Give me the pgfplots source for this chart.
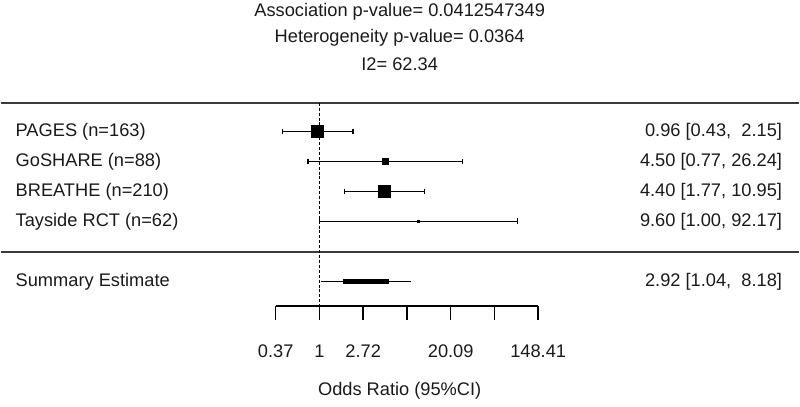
\documentclass[border=0pt]{standalone}
\usepackage{pgfplots}
\pgfplotsset{compat=1.18}
\usepackage{fontspec}
\setmainfont{Liberation Sans}
\definecolor{txt}{HTML}{1A1A1A}
\definecolor{rule}{HTML}{3A3A3A}
\tikzset{lab/.style={font=\fontsize{10.4}{12}\selectfont, text=txt, inner sep=0pt, outer sep=0pt}}
\begin{document}
\begin{tikzpicture}
\begin{axis}[
  width=16cm, height=8.14cm, scale only axis,
  xmode=log, xmin=0.000686, xmax=57931,
  ymin=0, ymax=407,
  hide axis, clip=false,
]
\path (rel axis cs:0,0) rectangle (rel axis cs:1,1);
% titles
\node[lab] at (axis cs:6.26,395) {Association p-value= 0.0412547349};
\node[lab] at (axis cs:6.26,369) {Heterogeneity p-value= 0.0364};
\node[lab] at (axis cs:6.26,343) {I2= 62.34};
% separator rules
\addplot[rule, line width=0.85pt] coordinates {(0.000686,304) (57931,304)};
\addplot[rule, line width=0.85pt] coordinates {(0.000686,154.7) (57931,154.7)};
% null line
\addplot[black, line width=0.85pt, dash pattern=on 1.7pt off 1.1pt] coordinates {(1,304) (1,100.3)};
% PAGES
\addplot[black, line width=0.65pt, mark=|, mark size=1.6pt] coordinates {(0.43,275.3) (2.15,275.3)};
\addplot[black, only marks, mark=square*, mark size=3.4pt] coordinates {(0.96,275.3)};
% GoSHARE
\addplot[black, line width=0.65pt, mark=|, mark size=1.6pt] coordinates {(0.77,245.3) (26.24,245.3)};
\addplot[black, only marks, mark=square*, mark size=1.7pt] coordinates {(4.50,245.3)};
% BREATHE
\addplot[black, line width=0.65pt, mark=|, mark size=1.6pt] coordinates {(1.77,215.3) (10.95,215.3)};
\addplot[black, only marks, mark=square*, mark size=3.4pt] coordinates {(4.40,215.3)};
% Tayside
\addplot[black, line width=0.65pt, mark=|, mark size=1.6pt] coordinates {(1.00,185.3) (92.17,185.3)};
\addplot[black, only marks, mark=square*, mark size=0.6pt] coordinates {(9.60,185.3)};
% Summary
\addplot[black, line width=0.65pt] coordinates {(1.04,125) (8.18,125)};
\addplot[black, line width=2.4pt] coordinates {(1.725,125) (4.94,125)};
% labels left
\node[lab, anchor=west] at (axis cs:0.000965,274.5) {PAGES (n=163)};
\node[lab, anchor=west] at (axis cs:0.000965,244.5) {GoSHARE (n=88)};
\node[lab, anchor=west] at (axis cs:0.000965,214.5) {BREATHE (n=210)};
\node[lab, anchor=west] at (axis cs:0.000965,184.5) {Tayside RCT (n=62)};
\node[lab, anchor=west] at (axis cs:0.000965,124.2) {Summary Estimate};
% labels right
\node[lab, anchor=east] at (axis cs:39068,274.5) {0.96 [0.43,\ \ 2.15]};
\node[lab, anchor=east] at (axis cs:39068,244.5) {4.50 [0.77, 26.24]};
\node[lab, anchor=east] at (axis cs:39068,214.5) {4.40 [1.77, 10.95]};
\node[lab, anchor=east] at (axis cs:39068,184.5) {9.60 [1.00, 92.17]};
\node[lab, anchor=east] at (axis cs:39068,124.2) {2.92 [1.04,\ \ 8.18]};
% x scale
\addplot[black, line width=0.85pt] coordinates {(0.3679,100.3) (148.41,100.3)};
\addplot[black, line width=0.85pt] coordinates {(0.3679,100.3) (0.3679,86)};
\addplot[black, line width=0.85pt] coordinates {(1,100.3) (1,86)};
\addplot[black, line width=0.85pt] coordinates {(2.718,100.3) (2.718,86)};
\addplot[black, line width=0.85pt] coordinates {(7.389,100.3) (7.389,86)};
\addplot[black, line width=0.85pt] coordinates {(20.09,100.3) (20.09,86)};
\addplot[black, line width=0.85pt] coordinates {(54.6,100.3) (54.6,86)};
\addplot[black, line width=0.85pt] coordinates {(148.41,100.3) (148.41,86)};
\node[lab] at (axis cs:0.3679,55) {0.37};
\node[lab] at (axis cs:1,55) {1};
\node[lab] at (axis cs:2.718,55) {2.72};
\node[lab] at (axis cs:20.09,55) {20.09};
\node[lab] at (axis cs:148.41,55) {148.41};
\node[lab] at (axis cs:6.26,15) {Odds Ratio (95\%CI)};
\end{axis}
\end{tikzpicture}
\end{document}
